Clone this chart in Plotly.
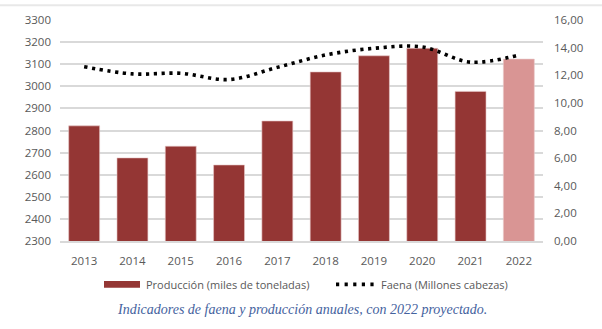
import plotly.graph_objects as go

# Annual beef indicators
years = ["2013", "2014", "2015", "2016", "2017", "2018", "2019", "2020", "2021", "2022"]
produccion = [2821, 2676, 2729, 2644, 2843, 3065, 3138, 3172, 2977, 3123]
faena = [12.62, 12.10, 12.14, 11.69, 12.57, 13.47, 13.95, 14.05, 12.95, 13.47]

bar_colors = ["#943634"] * 9 + ["#D99594"]

W, H = 602, 329
L, R, T, B = 60, 59, 17, 88
plot_w, plot_h = W - L - R, H - T - B


def px_x(px):
    return (px - L) / plot_w


def px_y(py):
    return (H - B - py) / plot_h


tick_font = dict(family="Open Sans", size=11.5, color="#595959")
dot_dash = "3.2px,4.6px"
grid_color = "#D9D9D9"

fig = go.Figure()
fig.add_trace(go.Bar(
    x=years, y=produccion, name="Producción (miles de toneladas)",
    marker=dict(color=bar_colors, line=dict(color="#E8C8C8", width=0.6)),
    yaxis="y", showlegend=False,
))
fig.add_trace(go.Scatter(
    x=years, y=faena, name="Faena (Millones cabezas)", mode="lines",
    line=dict(color="black", width=3.6, dash=dot_dash, shape="spline", smoothing=1.0),
    yaxis="y2", showlegend=False,
))

fig.update_layout(
    width=W, height=H,
    margin=dict(l=L, r=R, t=T, b=B),
    paper_bgcolor="white", plot_bgcolor="white",
    separators=",.",
    bargap=0.36,
    xaxis=dict(type="category", showgrid=False, tickfont=tick_font, ticks="",
               showline=True, linecolor=grid_color, linewidth=1.5, ticklabelstandoff=8),
    yaxis=dict(range=[2300, 3300], dtick=100, tickformat="d", showgrid=True,
               gridcolor=grid_color, gridwidth=1.5, tickfont=tick_font, zeroline=False,
               ticklabelstandoff=8),
    yaxis2=dict(range=[0, 16], dtick=2, tickformat=".2f", overlaying="y", side="right",
                showgrid=False, tickfont=tick_font, zeroline=False, ticklabelstandoff=10),
)

# Legend drawn as shapes and text below the axis
legend_y = px_y(285)
fig.add_shape(type="rect", xref="paper", yref="paper",
              x0=px_x(104), x1=px_x(140), y0=px_y(288.5), y1=px_y(281.5),
              fillcolor="#943634", line=dict(width=0))
fig.add_annotation(xref="paper", yref="paper", x=px_x(144), y=legend_y,
                   text="Producción (miles de toneladas)", showarrow=False,
                   xanchor="left", yanchor="middle",
                   font=dict(family="Open Sans", size=11, color="#595959"))
fig.add_shape(type="line", xref="paper", yref="paper",
              x0=px_x(336), x1=px_x(375), y0=legend_y, y1=legend_y,
              line=dict(color="black", width=3.6, dash="3.2px,5.4px"))
fig.add_annotation(xref="paper", yref="paper", x=px_x(379), y=legend_y,
                   text="Faena (Millones cabezas)", showarrow=False,
                   xanchor="left", yanchor="middle",
                   font=dict(family="Open Sans", size=11, color="#595959"))

# Caption
fig.add_annotation(xref="paper", yref="paper", x=px_x(302), y=px_y(310),
                   text="<i>Indicadores de faena y producción anuales, con 2022 proyectado.</i>",
                   showarrow=False, xanchor="center", yanchor="middle",
                   font=dict(family="Liberation Serif", size=14, color="#44629E"))

# Faint frame line along the top
fig.add_shape(type="line", xref="paper", yref="paper",
              x0=px_x(0), x1=px_x(W), y0=px_y(2), y1=px_y(2),
              line=dict(color="#E8E8E8", width=2))

fig.write_html("out.html")
